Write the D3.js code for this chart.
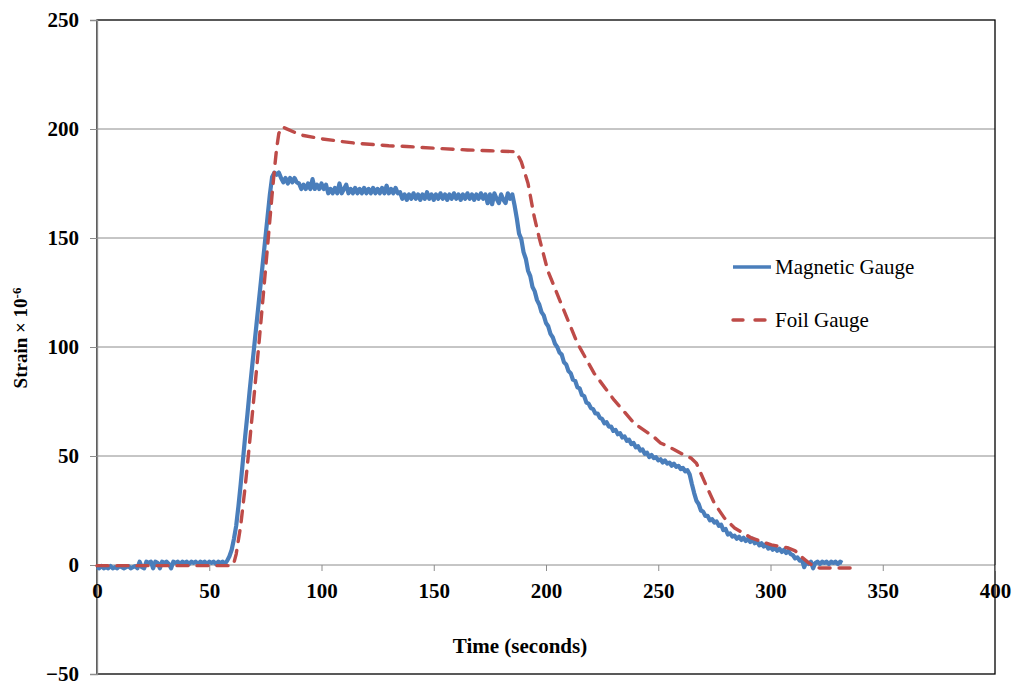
<!DOCTYPE html>
<html>
<head>
<meta charset="utf-8">
<script src="https://cdn.jsdelivr.net/npm/d3@7"></script>
<style>
  body { margin: 0; background: #ffffff; }
  svg text { font-family: 'Liberation Serif', 'Times New Roman', Tinos, serif; }
</style>
</head>
<body>
<div id="chartContainer"></div>
<script>
// Magnetic gauge: one reading per second, starting at t = 0
let magStart = 0;
let magStep = 1;
let magValues = [
  -1, -1.5, -0.5, -1.5, -1, -1.5, -0.5, -1.5, -1, -1.5,
  -0.5, -1, -1.5, -1, -0.5, -1.5, -1, -0.5, -1.5, 1.5,
  -1, -1.5, 1.5, 1, 1.5, -1.5, 1.5, 1, -1.5, 1.5,
  1, 1.5, 0.5, -1.5, 1.5, 1, 1.5, 0.5, 1.5, 1,
  1.5, 0.5, 1.5, 1, 1.5, 0.5, 1.5, 1, 1.5, 0.5,
  1.5, 1, 1.5, 0.5, 1.5, 1, 1.5, 0.5,
  2, 4, 7, 12, 18, 27, 37, 48, 59, 69, 80, 90,
  100, 110, 120, 130, 140, 150, 160, 170, 178, 180, 179, 180,
  177.5, 175.5, 177.5, 175, 177.5, 175.5, 177.5, 175.5,
  175, 172.5, 174.5, 172.5, 175, 172.5, 177, 172.5, 174.5, 172.5, 175, 172.5, 174.5,
  170.5, 172.5, 170.5, 173, 170.5, 175, 170.5, 172.5, 174.5, 170.5,
  172.5, 170.5, 173, 170.5, 172.5, 170.5, 173, 170.5, 172.5, 170.5,
  173, 170.5, 172.5, 170.5, 173, 170.5, 174, 170.5, 172.5, 170.5,
  173, 170.5,
  171, 168, 170, 167.5, 170, 168, 170.5, 168, 170, 167.5,
  170, 168, 171, 168, 170, 167.5, 170, 168, 170.5, 168,
  170, 167.5, 170, 168, 170.5, 168, 170, 167.5, 170, 168,
  170.5, 168, 170, 167.5, 170, 168, 170.5, 168, 170, 166,
  170, 165.5, 170.5, 168, 166, 170, 167.5, 166, 170.5, 168,
  170,
  165, 159, 152, 149.5, 143.5, 140.5, 135, 132.5, 127.5, 125.5,
  121.5, 119.5, 116, 114.5, 111,
  109.5, 106, 104.5, 101.5, 100, 97.5, 96.5, 93, 92, 89, 88, 85,
  84.5, 81.5, 81, 78, 77.5, 74.5, 74, 72, 71.5, 69.5, 69.5, 67.5, 67, 65, 65.5,
  63.5, 63.5, 61.5, 62, 60, 60.5, 58.5, 59, 57, 57.5, 55.5, 56, 54, 54.5,
  52.5, 53, 51, 51.5,
  49.5, 50.5, 49, 49.5, 48, 48.5, 47, 48, 46.5, 47, 45.5, 46.5, 45, 45.5,
  44, 44.5, 43, 43.5,
  41.5, 37, 33, 29.5, 28, 25, 24.5, 22.5, 22.5, 20.5, 21, 19.5, 20, 18,
  18.5, 16, 16.5, 14, 14.5, 13,
  13.5, 12, 13, 11.5, 12.5, 11, 12, 10.5, 12, 10, 11, 9, 10, 8.5, 9.5, 7.5,
  8.5, 7, 8, 6.5, 7.5, 6, 7, 5.5, 6.5, 5, 4.5, 3, 3.5, 2, 2.5, -1, 1.5, 0.5,
  1.5, -1.5, 1, 1.5, 0.5, 1.5, 1, 1.5, 0.5, 1.5, 1, 1.5, 0.5, 1.5, 1
];

// Foil gauge: smooth trace, read at the bends
let foilTimes = [
  0, 60, 61, 62, 64, 66, 67.4, 70, 72, 74, 76.3, 78, 79, 80, 81, 82.5,
  84, 88, 92, 100, 108, 115, 123, 130, 138, 150, 165, 175, 186.5,
  188, 189, 192, 194.7, 197, 200.8, 206.7, 214, 221.4, 230.4, 239.3,
  248.2, 251, 257, 261.6, 264.7, 267, 269, 272, 275, 279.5, 284, 291.5,
  300.4, 308, 311, 313.8, 317, 319.6, 322, 336
];
let foilValues = [
  -0.3, -0.3, 1, 5, 18, 36, 50, 78, 100, 123, 150, 170, 181, 191, 198, 201,
  200.3, 198.5, 197, 195.5, 194.4, 193.5, 192.9, 192.3, 192, 191.2, 190.4, 190, 189.6,
  187, 185, 175, 160, 150, 135, 120, 101.7, 88, 75.6, 65,
  58.6, 56, 53, 50.4, 49, 46.7, 42, 35, 28.3, 21.5, 17, 12.4,
  9.2, 7.8, 6.5, 3.7, 1, -0.9, -1.4, -1.4
];

let seriesNames = ["Magnetic Gauge", "Foil Gauge"];
let xTicks = [0, 50, 100, 150, 200, 250, 300, 350, 400];
let yTicks = [-50, 0, 50, 100, 150, 200, 250];

//Options
let width = 1016;
let height = 685;
let plotLeft = 97, plotRight = 995, plotTop = 20, plotBottom = 674;
let blue = "#4a7ebb";
let red = "#be4b48";
let gridGrey = "#8c8c8c";
let tick_font = "21px";
let serif = "'Liberation Serif', 'Times New Roman', Tinos, serif";

let svg = d3.select("#chartContainer").append("svg")
    .attr("width", width)
    .attr("height", height)
    .style("font-family", serif);

let x_scale = d3.scaleLinear().domain([0, 400]).range([plotLeft, plotRight]);
let y_scale = d3.scaleLinear().domain([-50, 250]).range([plotBottom, plotTop]);

// horizontal gridlines (the 0 line doubles as the x axis)
svg.append("g")
    .selectAll("line")
    .data(yTicks.filter(d => d > -50 && d < 250))
    .enter()
    .append("line")
        .attr("x1", plotLeft)
        .attr("x2", plotRight)
        .attr("y1", d => y_scale(d))
        .attr("y2", d => y_scale(d))
        .style("stroke", gridGrey)
        .style("stroke-width", 1);

// plot area frame
svg.append("rect")
    .attr("x", plotLeft)
    .attr("y", plotTop)
    .attr("width", plotRight - plotLeft)
    .attr("height", plotBottom - plotTop)
    .style("fill", "none")
    .style("stroke", "#000000")
    .style("stroke-width", 1.3);

// y axis
let y_ax = d3.axisLeft(y_scale)
    .tickValues(yTicks)
    .tickSize(7)
    .tickPadding(11)
    .tickFormat(d3.format("d"));

let yG = svg.append("g")
    .attr("transform", `translate(${plotLeft},0)`)
    .call(y_ax)
    .attr("font-family", null);
yG.select(".domain").style("stroke", gridGrey).style("stroke-width", 1.3);
yG.selectAll(".tick line").style("stroke", gridGrey);
yG.selectAll(".tick text")
    .style("font-family", serif)
    .style("font-size", tick_font)
    .style("font-weight", "bold")
    .style("fill", "#000000");

// x axis sitting on zero
let x_ax = d3.axisBottom(x_scale)
    .tickValues(xTicks)
    .tickSize(6)
    .tickPadding(12)
    .tickSizeOuter(0)
    .tickFormat(d3.format("d"));

let xG = svg.append("g")
    .attr("transform", `translate(0,${y_scale(0)})`)
    .call(x_ax)
    .attr("font-family", null);
xG.select(".domain").remove();
xG.selectAll(".tick line").style("stroke", gridGrey);
xG.selectAll(".tick text")
    .style("font-family", serif)
    .style("font-size", tick_font)
    .style("font-weight", "bold")
    .style("fill", "#000000");

// series
let magData = magValues.map((v, i) => [magStart + i * magStep, v]);
let foilData = foilTimes.map((t, i) => [t, foilValues[i]]);

let line = d3.line()
    .x(d => x_scale(d[0]))
    .y(d => y_scale(d[1]));

svg.append("path")
    .datum(magData)
    .attr("d", line)
    .style("fill", "none")
    .style("stroke", blue)
    .style("stroke-width", 4.2)
    .style("stroke-linejoin", "round");

svg.append("path")
    .datum(foilData)
    .attr("d", line)
    .style("fill", "none")
    .style("stroke", red)
    .style("stroke-width", 3.4)
    .style("stroke-dasharray", "11,9")
    .style("stroke-linecap", "round")
    .style("stroke-linejoin", "round");

// legend
let legend = svg.append("g").attr("id", "legend");
let legendY = [267, 320];
legend.selectAll("line")
    .data(seriesNames)
    .enter()
    .append("line")
        .attr("x1", 733)
        .attr("x2", 771)
        .attr("y1", (d, i) => legendY[i])
        .attr("y2", (d, i) => legendY[i])
        .style("stroke", (d, i) => i == 0 ? blue : red)
        .style("stroke-width", 3.4)
        .style("stroke-dasharray", (d, i) => i == 0 ? null : "10,12")
        .style("stroke-linecap", (d, i) => i == 0 ? "butt" : "round");

legend.selectAll("text")
    .data(seriesNames)
    .enter()
    .append("text")
        .attr("x", 775)
        .attr("y", (d, i) => legendY[i])
        .attr("dy", "0.33em")
        .style("font-family", serif)
        .style("font-size", "21px")
        .style("fill", "#000000")
        .text(d => d);

// axis titles
svg.append("text")
    .attr("x", 520)
    .attr("y", 653)
    .attr("text-anchor", "middle")
    .style("font-family", serif)
    .style("font-size", "21px")
    .style("font-weight", "bold")
    .text("Time (seconds)");

let yTitle = svg.append("text")
    .attr("transform", "translate(27,338) rotate(-90)")
    .attr("text-anchor", "middle")
    .style("font-family", serif)
    .style("font-size", "19px")
    .style("font-weight", "bold");
yTitle.append("tspan").text("Strain × 10");
yTitle.append("tspan")
    .attr("dy", "-0.5em")
    .style("font-size", "13px")
    .text("-6");
</script>
</body>
</html>
